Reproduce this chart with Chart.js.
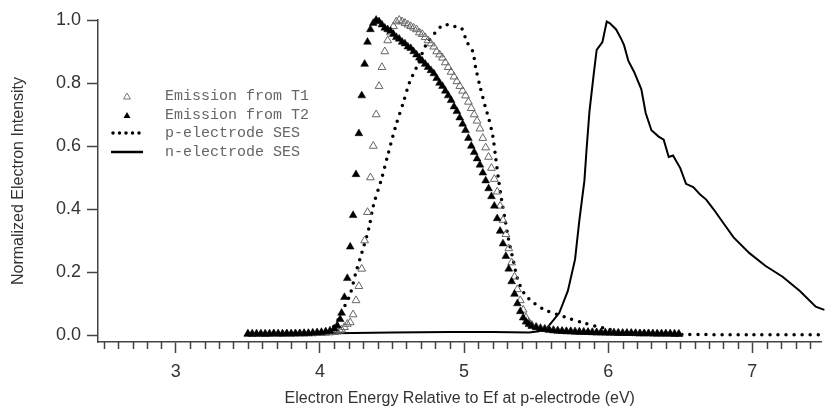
<!DOCTYPE html>
<html>
<head>
<meta charset="utf-8">
<script src="https://cdn.jsdelivr.net/npm/chart.js@4.4.1/dist/chart.umd.min.js"></script>
<style>
  html, body { margin: 0; padding: 0; background: #fff; }
  #wrap { width: 827px; height: 411px; position: relative; }
</style>
</head>
<body>
<div id="wrap"><canvas id="myChart"></canvas></div>
<script>
// energies shared by both emission runs (eV)
const emissionEnergy = [
  3.50,3.53,3.56,3.59,3.62,3.65,3.68,3.71,3.74,3.77,
  3.80,3.83,3.86,3.89,3.92,3.95,3.98,4.01,4.04,4.07,
  4.10,4.12,4.14,4.15,4.17,4.19,4.21,4.23,4.25,4.27,
  4.29,4.31,4.33,4.35,4.37,4.39,4.41,4.43,4.45,4.47,
  4.49,4.51,4.53,4.55,4.57,4.59,4.61,4.63,4.65,4.67,
  4.69,4.71,4.73,4.75,4.77,4.79,4.81,4.83,4.85,4.87,
  4.89,4.91,4.93,4.95,4.97,4.99,5.01,5.03,5.05,5.07,
  5.09,5.11,5.13,5.15,5.17,5.19,5.21,5.23,5.25,5.27,
  5.29,5.31,5.33,5.35,5.37,5.39,5.41,5.43,5.45,5.47,
  5.50,5.53,5.56,5.59,5.62,5.65,5.68,5.71,5.74,5.77,
  5.80,5.83,5.86,5.89,5.92,5.95,5.98,6.01,6.04,6.07,
  6.10,6.13,6.16,6.19,6.22,6.25,6.28,6.31,6.34,6.37,
  6.40,6.43,6.46,6.49
];
const t1Intensity = [
  0.003,0.004,0.003,0.003,0.004,0.003,0.004,0.004,0.003,0.004,
  0.004,0.004,0.005,0.004,0.005,0.005,0.006,0.006,0.007,0.008,
  0.009,0.011,0.014,0.017,0.025,0.035,0.04,0.065,0.11,0.155,
  0.21,0.30,0.39,0.50,0.60,0.70,0.79,0.85,0.90,0.935,
  0.96,0.98,0.995,1.0,0.995,0.99,0.985,0.98,0.975,0.97,
  0.96,0.955,0.945,0.935,0.925,0.915,0.90,0.89,0.88,0.865,
  0.85,0.835,0.82,0.805,0.79,0.775,0.76,0.74,0.72,0.70,
  0.68,0.655,0.625,0.595,0.565,0.53,0.495,0.455,0.41,0.365,
  0.32,0.275,0.23,0.185,0.145,0.11,0.08,0.055,0.04,0.032,
  0.026,0.022,0.02,0.017,0.016,0.014,0.013,0.012,0.012,0.011,
  0.010,0.010,0.009,0.009,0.008,0.008,0.008,0.007,0.007,0.007,
  0.006,0.006,0.006,0.006,0.005,0.005,0.005,0.005,0.004,0.004,
  0.004,0.004,0.004,0.003
];
const t2Intensity = [
  0.004,0.003,0.004,0.004,0.003,0.004,0.005,0.004,0.004,0.005,
  0.004,0.005,0.005,0.006,0.006,0.007,0.008,0.009,0.011,0.014,
  0.02,0.03,0.05,0.07,0.12,0.18,0.28,0.38,0.51,0.64,
  0.76,0.86,0.93,0.97,0.99,1.0,0.995,0.985,0.975,0.97,
  0.965,0.955,0.945,0.94,0.93,0.925,0.915,0.91,0.90,0.89,
  0.88,0.87,0.86,0.85,0.84,0.83,0.815,0.80,0.79,0.775,
  0.76,0.745,0.725,0.71,0.69,0.67,0.65,0.625,0.60,0.58,
  0.56,0.54,0.515,0.49,0.465,0.44,0.41,0.37,0.33,0.29,
  0.25,0.21,0.17,0.13,0.10,0.075,0.055,0.042,0.034,0.028,
  0.024,0.02,0.018,0.016,0.014,0.013,0.012,0.011,0.011,0.010,
  0.010,0.009,0.009,0.008,0.008,0.008,0.007,0.007,0.007,0.006,
  0.006,0.006,0.006,0.005,0.005,0.005,0.005,0.004,0.004,0.004,
  0.004,0.004,0.003,0.003
];

// p-electrode SES (dotted)
const pEnergy = [
  3.50,3.70,3.90,4.00,4.05,4.10,4.14,4.17,4.21,4.25,
  4.29,4.34,4.37,4.43,4.47,4.53,4.58,4.62,4.67,4.74,
  4.80,4.86,4.92,4.98,5.02,5.06,5.08,5.11,5.15,5.17,
  5.20,5.22,5.24,5.26,5.285,5.31,5.34,5.37,5.42,5.49,
  5.56,5.70,5.835,5.97,6.11,6.30,6.50,7.00,7.50
];
const pIntensity = [
  0.002,0.002,0.003,0.004,0.01,0.03,0.06,0.09,0.13,0.20,
  0.26,0.34,0.41,0.50,0.57,0.67,0.74,0.80,0.85,0.925,
  0.96,0.985,0.98,0.975,0.93,0.90,0.85,0.79,0.72,0.69,
  0.63,0.56,0.49,0.43,0.365,0.30,0.24,0.18,0.13,0.10,
  0.08,0.057,0.038,0.022,0.01,0.004,0.002,0.001,0.001
];

// n-electrode SES (solid)
const nEnergy = [
  3.50,3.80,4.10,4.50,4.90,5.20,5.45,5.52,5.58,5.66,
  5.72,5.77,5.80,5.835,5.85,5.87,5.90,5.92,5.96,5.99,
  6.01,6.055,6.09,6.11,6.14,6.18,6.23,6.26,6.30,6.35,
  6.385,6.42,6.45,6.50,6.54,6.59,6.64,6.68,6.73,6.80,
  6.87,6.98,7.09,7.21,7.33,7.44,7.50
];
const nIntensity = [
  0.003,0.004,0.006,0.008,0.010,0.010,0.008,0.012,0.025,0.07,
  0.14,0.24,0.365,0.49,0.59,0.71,0.83,0.905,0.93,0.995,
  0.99,0.97,0.94,0.92,0.87,0.835,0.78,0.705,0.65,0.63,
  0.62,0.565,0.57,0.53,0.48,0.47,0.445,0.43,0.40,0.355,
  0.31,0.26,0.22,0.185,0.14,0.09,0.08
];

const seriesLabels = ['Emission from T1', 'Emission from T2', 'p-electrode SES', 'n-electrode SES'];
const xTicks = [3, 4, 5, 6, 7];
const yTicks = [0, 0.2, 0.4, 0.6, 0.8, 1.0];

const pts = (xs, ys) => xs.map((x, i) => ({ x: x, y: ys[i] }));
const axisColor = '#444';
const dotDash = [0, 8];

// minor ticks every 0.1 eV on the bottom axis
const minorTicks = {
  id: 'minorTicks',
  afterDraw(chart) {
    const sx = chart.scales.x, c = chart.ctx, y0 = chart.chartArea.bottom;
    c.save();
    c.strokeStyle = axisColor;
    c.lineWidth = 1.5;
    for (let k = 25; k <= 74; k++) {
      if (k % 10 === 0) continue;
      const px = Math.round(sx.getPixelForValue(k / 10)) + 0.5;
      c.beginPath();
      c.moveTo(px, y0);
      c.lineTo(px, y0 + 7);
      c.stroke();
    }
    c.restore();
  }
};

// legend drawn inside the plot, Igor style
const boxLegend = {
  id: 'boxLegend',
  afterDatasetsDraw(chart) {
    const c = chart.ctx;
    const rows = [96, 115, 133, 152];
    c.save();
    c.font = '15px "Liberation Mono", monospace';
    c.fillStyle = '#666';
    c.textBaseline = 'middle';
    rows.forEach((ry, i) => c.fillText(seriesLabels[i], 165, ry));

    // open triangle
    c.strokeStyle = '#777';
    c.lineWidth = 1;
    c.beginPath();
    c.moveTo(127, rows[0] - 3); c.lineTo(130.5, rows[0] + 3); c.lineTo(123.5, rows[0] + 3); c.closePath();
    c.fillStyle = '#fff';
    c.fill();
    c.stroke();
    // filled triangle
    c.fillStyle = '#000';
    c.beginPath();
    c.moveTo(127, rows[1] - 3); c.lineTo(130.5, rows[1] + 3); c.lineTo(123.5, rows[1] + 3); c.closePath();
    c.fill();
    // dotted
    c.strokeStyle = '#000';
    c.lineCap = 'round';
    c.lineWidth = 3.5;
    c.setLineDash([0, 6.5]);
    c.beginPath(); c.moveTo(113, rows[2]); c.lineTo(143, rows[2]); c.stroke();
    // solid
    c.setLineDash([]);
    c.lineCap = 'butt';
    c.lineWidth = 2.5;
    c.beginPath(); c.moveTo(111, rows[3]); c.lineTo(143, rows[3]); c.stroke();
    c.restore();
  }
};

const ctx = document.getElementById('myChart');
new Chart(ctx, {
  type: 'scatter',
  data: {
    datasets: [
      {
        label: seriesLabels[1],
        data: pts(emissionEnergy, t2Intensity),
        pointStyle: 'triangle',
        pointRadius: 4.5,
        backgroundColor: '#000',
        borderColor: '#000',
        borderWidth: 0.5,
        clip: false
      },
      {
        label: seriesLabels[0],
        data: pts(emissionEnergy, t1Intensity),
        pointStyle: 'triangle',
        pointRadius: 4.5,
        backgroundColor: 'rgba(255,255,255,0)',
        borderColor: '#666',
        borderWidth: 1,
        clip: false
      },
      {
        label: seriesLabels[2],
        data: pts(pEnergy, pIntensity),
        showLine: true,
        pointRadius: 0,
        borderColor: '#000',
        borderWidth: 3.5,
        borderDash: dotDash,
        borderCapStyle: 'round',
        tension: 0.3,
        clip: false
      },
      {
        label: seriesLabels[3],
        data: pts(nEnergy, nIntensity),
        showLine: true,
        pointRadius: 0,
        borderColor: '#000',
        borderWidth: 2,
        tension: 0,
        clip: false
      }
    ]
  },
  options: {
    responsive: true,
    maintainAspectRatio: false,
    animation: false,
    layout: { padding: { top: 20, right: 0, left: 0, bottom: 0 } },
    plugins: {
      legend: { display: false },
      tooltip: { enabled: false }
    },
    scales: {
      x: {
        type: 'linear',
        min: 2.46,
        max: 7.48,
        afterFit: s => { s.height = 69; },
        afterBuildTicks: s => { s.ticks = xTicks.map(v => ({ value: v })); },
        ticks: {
          color: '#333',
          padding: 8,
          maxRotation: 0,
          font: { family: '"Liberation Sans", Arial, sans-serif', size: 18 },
          callback: v => String(v)
        },
        grid: { drawOnChartArea: false, tickLength: 11, tickColor: axisColor, tickWidth: 1.5 },
        border: { display: true, color: axisColor, width: 1.5 },
        title: {
          display: true,
          text: 'Electron Energy Relative to Ef at p-electrode (eV)',
          color: '#333',
          font: { family: '"Liberation Sans", Arial, sans-serif', size: 16 },
          padding: { top: 0, bottom: 3 }
        }
      },
      y: {
        type: 'linear',
        min: -0.022,
        max: 1.0,
        afterFit: s => { s.width = 98; },
        afterBuildTicks: s => { s.ticks = yTicks.map(v => ({ value: v })); },
        ticks: {
          color: '#333',
          padding: 6,
          font: { family: '"Liberation Sans", Arial, sans-serif', size: 18 },
          callback: v => v.toFixed(1)
        },
        grid: { drawOnChartArea: false, tickLength: 11, tickColor: axisColor, tickWidth: 1.5 },
        border: { display: true, color: axisColor, width: 1.5 },
        title: {
          display: true,
          text: 'Normalized Electron Intensity',
          color: '#333',
          font: { family: '"Liberation Sans", Arial, sans-serif', size: 16 },
          padding: { top: 9, bottom: 0 }
        }
      }
    }
  },
  plugins: [minorTicks, boxLegend]
});
</script>
</body>
</html>
